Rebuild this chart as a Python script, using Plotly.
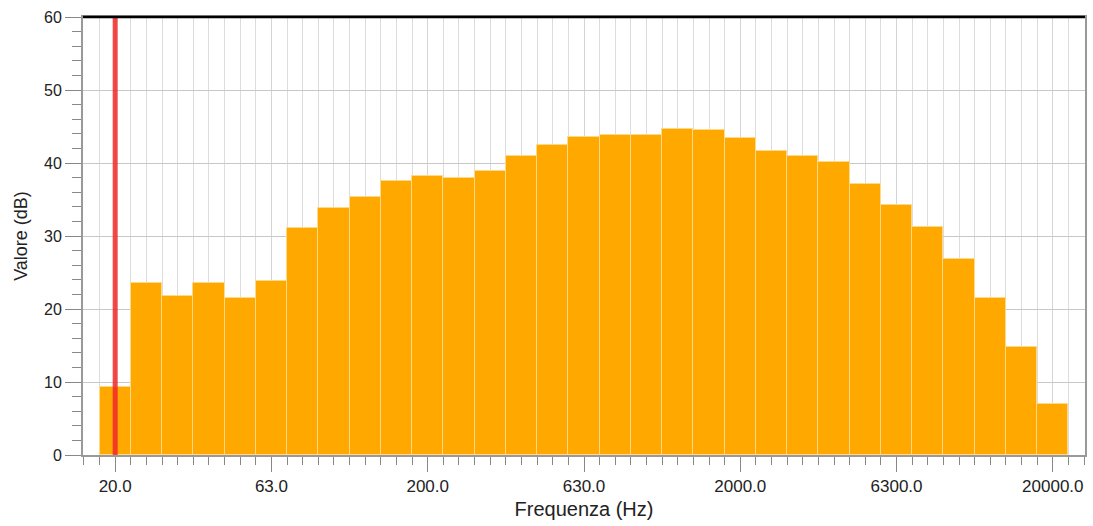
import plotly.graph_objects as go

bands = ["20.0", "25.0", "31.5", "40.0", "50.0", "63.0", "80.0", "100.0", "125.0", "160.0",
         "200.0", "250.0", "315.0", "400.0", "500.0", "630.0", "800.0", "1000.0", "1250.0", "1600.0",
         "2000.0", "2500.0", "3150.0", "4000.0", "5000.0", "6300.0", "8000.0", "10000.0", "12500.0",
         "16000.0", "20000.0"]
values_db = [9.3, 23.5, 21.8, 23.5, 21.5, 23.8, 31.1, 33.8, 35.3, 37.6,
             38.2, 38.0, 38.9, 41.0, 42.5, 43.6, 43.8, 43.8, 44.7, 44.5,
             43.4, 41.6, 41.0, 40.1, 37.1, 34.2, 31.3, 26.8, 21.5, 14.8, 7.0]
major_labels = ["20.0", "63.0", "200.0", "630.0", "2000.0", "6300.0", "20000.0"]
marker_band = "20.0"

idx = list(range(len(bands)))
major_idx = [bands.index(b) for b in major_labels]
marker_idx = bands.index(marker_band)

fig = go.Figure()
fig.add_trace(go.Bar(
    x=idx, y=values_db, width=1.0,
    marker=dict(color="#FFA800", line=dict(color="#FFD98A", width=1)),
    hovertext=bands, showlegend=False,
))
fig.add_trace(go.Scatter(
    x=[marker_idx, marker_idx], y=[0, 60], mode="lines",
    line=dict(color="rgba(240,40,40,0.85)", width=5), showlegend=False,
))

fam = "Liberation Sans, Arial, sans-serif"
fig.update_layout(
    width=1093, height=526,
    margin=dict(l=83, r=8, t=17, b=71),
    plot_bgcolor="white", paper_bgcolor="white",
    font=dict(family=fam, size=15, color="#222"), bargap=0,
    xaxis=dict(
        range=[-1.03, 31.03], tickmode="array", tickvals=major_idx, ticktext=major_labels,
        showgrid=True, gridcolor="#d4d4d4", gridwidth=1,
        ticks="outside", ticklen=15, tickcolor="#888",
        tickfont=dict(family=fam, size=17, color="#222"),
        showline=True, linecolor="#999", linewidth=2, mirror=True,
        minor=dict(tickmode="linear", tick0=0, dtick=0.5, showgrid=True,
                   gridcolor="#dcdcdc", gridwidth=1, ticks="outside", ticklen=8, tickcolor="#888"),
        title=dict(text="Frequenza (Hz)", font=dict(family=fam, size=20, color="#222"), standoff=7),
        zeroline=False, automargin=False,
    ),
    yaxis=dict(
        range=[0, 60], tickmode="linear", tick0=0, dtick=10,
        showgrid=True, gridcolor="#c8c8c8", gridwidth=1,
        ticks="outside", ticklen=16, tickcolor="#888",
        tickfont=dict(family=fam, size=16, color="#222"),
        showline=True, linecolor="#999", linewidth=2, mirror=True,
        minor=dict(tickmode="linear", tick0=0, dtick=2, showgrid=False,
                   ticks="outside", ticklen=9, tickcolor="#888"),
        title=dict(text="Valore (dB)", font=dict(family=fam, size=18, color="#222"), standoff=12),
        zeroline=False, automargin=False,
    ),
    shapes=[dict(type="line", xref="paper", yref="paper", x0=0, x1=1, y0=1, y1=1,
                 line=dict(color="black", width=2.5))],
)

fig.write_html("out.html", config={"displayModeBar": False},
               post_script="document.body.style.margin='0';document.body.style.overflow='hidden';")
